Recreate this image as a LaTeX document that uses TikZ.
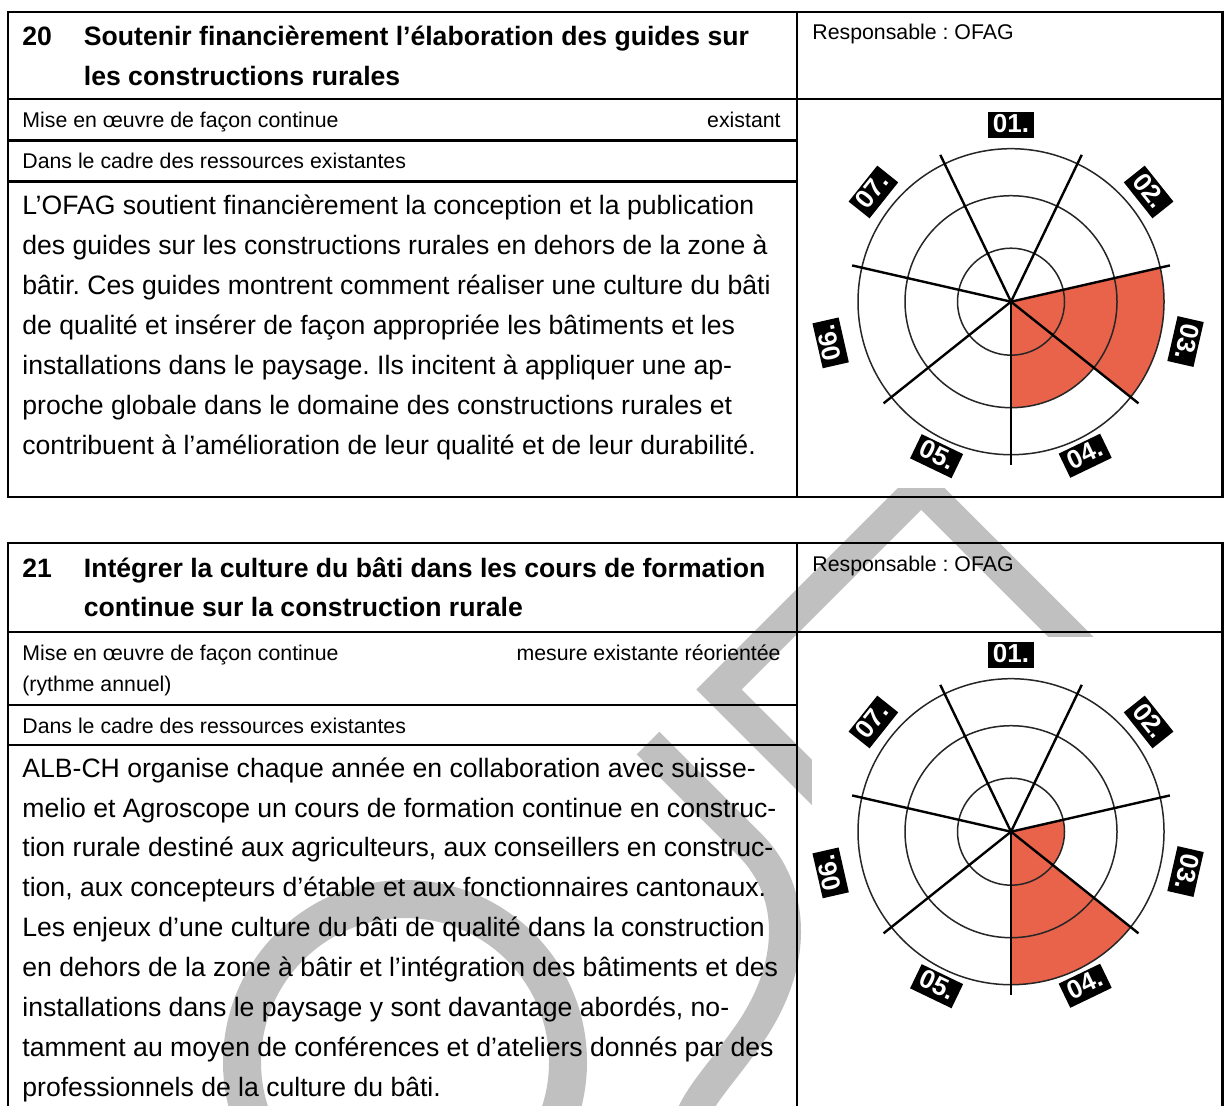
\documentclass[tikz,border=0pt]{standalone}
\usepackage{fontspec}
\setmainfont{Liberation Sans}
\frenchspacing
\definecolor{wm}{RGB}{192,192,192}
\definecolor{fillred}{RGB}{232,99,74}
\tikzset{
  tline/.style={line width=1.2pt, black},
  wmstroke/.style={draw=wm, line width=16pt, line cap=butt, line join=miter},
  bodytxt/.style={anchor=base west, inner sep=0pt, font=\fontsize{13.3pt}{19.93pt}\selectfont},
  smalltxt/.style={anchor=base west, inner sep=0pt, font=\fontsize{10.65pt}{14pt}\selectfont},
  ttltxt/.style={anchor=base west, inner sep=0pt, font=\fontsize{13.3pt}{19.93pt}\selectfont\bfseries},
  lbl/.style={fill=black, text=white, font=\fontsize{13pt}{13pt}\selectfont\bfseries,
    inner sep=0pt, minimum width=23pt, minimum height=13.4pt, text height=0.72em, text depth=0pt},
  circ/.style={line width=0.75pt, black!85},
  spoke/.style={line width=1.2pt, black},
  imgbg/.style={fill=white, draw=none},
}
\begin{document}
\begin{tikzpicture}[x=0.5pt, y=-0.5pt]
\useasboundingbox (0,0) rectangle (1224,1106);
\fill[white] (0,0) rectangle (1224,1106);

% ---------- watermark (behind everything) ----------
\fill[wm, even odd rule] (405,1062) circle[radius=182] (405,1062) circle[radius=144];
\draw[wmstroke] (880,850.5) -- (719,689.5) -- (921.2,487.2) -- (1150,716);
\draw[wmstroke] (648,743) -- (750,845) .. controls (795,890) and (800,965) .. (745,1040)
   .. controls (720,1075) and (700,1095) .. (690,1120);

% ---------- radar image backgrounds ----------
\fill[imgbg] (812,142) rectangle (1221,488);
\fill[imgbg] (812,637) rectangle (1221,1106);

% ---------- radar 1 ----------
\begin{scope}[shift={(1011,301.7)}, yscale=-1]
  \coordinate (c1) at (0,0);
  \fill[fillred] (c1) -- (-38.571:153) arc[start angle=-38.571, end angle=12.857, radius=153] -- cycle;
  \fill[fillred] (c1) -- (-90:106) arc[start angle=-90, end angle=-38.571, radius=106] -- cycle;
  \foreach \r in {53.5,106,153} \draw[circ] (c1) circle[radius=\r];
  \foreach \a in {-90,-38.571,12.857,64.286,115.714,167.143,218.571} \draw[spoke] (c1) -- (\a:163);
  \node[lbl] (a01) at (90:176.7) {01.};
  \node[lbl, rotate=-51.43] (a02) at (38.571:176) {02.};
  \node[lbl, rotate=-102.86] (a03) at (-12.857:179) {03.};
  \node[lbl, rotate=25.71] (a04) at (-64.286:171) {04.};
  \node[lbl, rotate=-25.71] (a05) at (244.286:171.5) {05.};
  \node[lbl, rotate=102.86] (a06) at (192.857:185) {06.};
  \node[lbl, rotate=51.43] (a07) at (141.429:176) {07.};
\end{scope}

% ---------- radar 2 ----------
\begin{scope}[shift={(1011,831.7)}, yscale=-1]
  \coordinate (c2) at (0,0);
  \fill[fillred] (c2) -- (-38.571:53.5) arc[start angle=-38.571, end angle=12.857, radius=53.5] -- cycle;
  \fill[fillred] (c2) -- (-90:153) arc[start angle=-90, end angle=-38.571, radius=153] -- cycle;
  \foreach \r in {53.5,106,153} \draw[circ] (c2) circle[radius=\r];
  \foreach \a in {-90,-38.571,12.857,64.286,115.714,167.143,218.571} \draw[spoke] (c2) -- (\a:163);
  \node[lbl] (b01) at (90:176.7) {01.};
  \node[lbl, rotate=-51.43] (b02) at (38.571:176) {02.};
  \node[lbl, rotate=-102.86] (b03) at (-12.857:179) {03.};
  \node[lbl, rotate=25.71] (b04) at (-64.286:171) {04.};
  \node[lbl, rotate=-25.71] (b05) at (244.286:171.5) {05.};
  \node[lbl, rotate=102.86] (b06) at (192.857:185) {06.};
  \node[lbl, rotate=51.43] (b07) at (141.429:176) {07.};
\end{scope}

% ---------- table 1 lines ----------
\draw[tline] (8,12) rectangle (1222.5,497);
\draw[tline] (797,12) -- (797,497);
\draw[tline] (8,99) -- (1222.5,99);
\draw[tline] (8,140.5) -- (797,140.5);
\draw[tline] (8,181.5) -- (797,181.5);

% ---------- table 2 lines ----------
\draw[tline] (8,1110) -- (8,543) -- (1222.5,543) -- (1222.5,1110);
\draw[tline] (797,543) -- (797,1110);
\draw[tline] (8,632) -- (1222.5,632);
\draw[tline] (8,705) -- (797,705);
\draw[tline] (8,745) -- (797,745);

% ---------- table 1 text ----------
\node[ttltxt] (n20) at (22,46) {20};
\node[ttltxt] (t20a) at (83.5,46) {Soutenir financièrement l’élaboration des guides sur};
\node[ttltxt] (t20b) at (83.5,85.5) {les constructions rurales};
\node[smalltxt] (resp1) at (812,40) {Responsable : OFAG};
\node[smalltxt] (mise1) at (22,128) {Mise en œuvre de façon continue};
\node[smalltxt, anchor=base east] (etat1) at (781,128) {existant};
\node[smalltxt] (dans1) at (22,169) {Dans le cadre des ressources existantes};
\node[bodytxt] (p1l1) at (22,215.0) {L’OFAG soutient financièrement la conception et la publication};
\node[bodytxt] (p1l2) at (22,254.9) {des guides sur les constructions rurales en dehors de la zone à};
\node[bodytxt] (p1l3) at (22,294.7) {bâtir. Ces guides montrent comment réaliser une culture du bâti};
\node[bodytxt] (p1l4) at (22,334.6) {de qualité et insérer de façon appropriée les bâtiments et les};
\node[bodytxt] (p1l5) at (22,374.4) {installations dans le paysage. Ils incitent à appliquer une ap-};
\node[bodytxt] (p1l6) at (22,414.3) {proche globale dans le domaine des constructions rurales et};
\node[bodytxt] (p1l7) at (22,454.1) {contribuent à l’amélioration de leur qualité et de leur durabilité.};

% ---------- table 2 text ----------
\node[ttltxt] (n21) at (22,577) {21};
\node[ttltxt] (t21a) at (83.5,577) {Intégrer la culture du bâti dans les cours de formation};
\node[ttltxt] (t21b) at (83.5,616.5) {continue sur la construction rurale};
\node[smalltxt] (resp2) at (812,571) {Responsable : OFAG};
\node[smalltxt] (mise2) at (22,660.5) {Mise en œuvre de façon continue};
\node[smalltxt] (rythme2) at (22,691) {(rythme annuel)};
\node[smalltxt, anchor=base east] (etat2) at (781,660.5) {mesure existante réorientée};
\node[smalltxt] (dans2) at (22,733) {Dans le cadre des ressources existantes};
\node[bodytxt] (p2l1) at (22,777.2) {ALB-CH organise chaque année en collaboration avec suisse-};
\node[bodytxt] (p2l2) at (22,817.0) {melio et Agroscope un cours de formation continue en construc-};
\node[bodytxt] (p2l3) at (22,856.9) {tion rurale destiné aux agriculteurs, aux conseillers en construc-};
\node[bodytxt] (p2l4) at (22,896.7) {tion, aux concepteurs d’étable et aux fonctionnaires cantonaux.};
\node[bodytxt] (p2l5) at (22,936.6) {Les enjeux d’une culture du bâti de qualité dans la construction};
\node[bodytxt] (p2l6) at (22,976.4) {en dehors de la zone à bâtir et l’intégration des bâtiments et des};
\node[bodytxt] (p2l7) at (22,1016.3) {installations dans le paysage y sont davantage abordés, no-};
\node[bodytxt] (p2l8) at (22,1056.1) {tamment au moyen de conférences et d’ateliers donnés par des};
\node[bodytxt] (p2l9) at (22,1096.0) {professionnels de la culture du bâti.};
\end{tikzpicture}
\end{document}
